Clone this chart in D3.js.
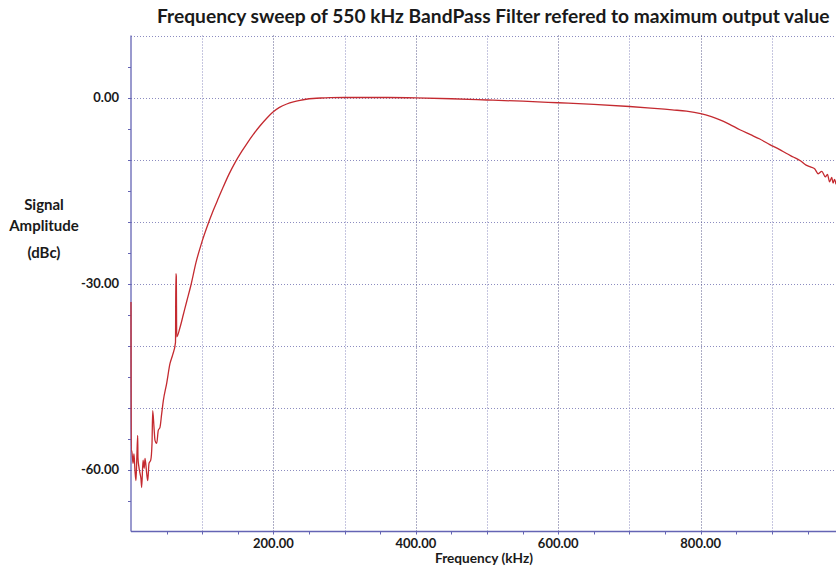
<!DOCTYPE html>
<html>
<head>
	<meta charset="utf-8">
	<title>Frequency sweep of 550 kHz BandPass Filter</title>
	<style>
		body { margin: 0; background: #fff; }
		svg { display: block; }
		text { font-family: Lato, "Open Sans", sans-serif; font-weight: bold; fill: #1a1a1a; }
		.grid line { stroke: #8c8cc0; stroke-width: 1; stroke-dasharray: 1,2; }
		.grid line.dark { stroke: #5a5a8a; }
		.axisline { stroke: #6464b4; stroke-width: 1.3; }
		.tick-minor { stroke: #6464b4; stroke-width: 1; }
		.line { fill: none; stroke: #c42a30; stroke-width: 1.3px; stroke-linejoin: round; }
	</style>
	<script src="https://cdn.jsdelivr.net/npm/d3@7"></script>
</head>
<body>
<svg width="836" height="567"></svg>
<script>

	// sweep: frequency in kHz, amplitude in dBc
	var freq = [0, 0.3, 1, 2.8, 4.2, 5.6, 7.0, 8.2, 9.4, 9.8, 11.0, 12.6, 14.0, 15.0, 16.9, 18.5, 19.7, 22.0, 23.5, 25.3,
		27.7, 29.5, 30.5, 32.3, 33.7, 36.1, 38.3, 40.7, 43.1, 45.4, 50.1, 54.8, 58.5, 62.5, 63.0, 63.6, 64.2, 68.8, 73.5, 78.2,
		84.3, 91.3, 99.3, 106.7, 115.6, 122.5, 129.6, 137.5, 146.1, 155.5, 163.5, 171.8, 181, 190.6, 199.4, 208.5, 218.7, 228, 237.4, 246,
		255.6, 267, 279.5, 300, 330, 360, 400, 450, 500, 550, 600, 650, 700, 730, 760, 780, 800, 815, 827, 840,
		855, 870, 883, 897, 911, 920, 930, 940, 948, 954, 960, 965, 970, 975, 978, 981, 984, 986, 988, 990];
	var amp = [-33.0, -57.0, -56.9, -59.0, -57.5, -60.2, -61.8, -58.0, -54.5, -58.1, -59.5, -60.6, -61.5, -62.9, -58.5, -59.8, -58.2, -60.6, -61.8, -59.0,
		-58.5, -55.8, -50.5, -53.2, -55.3, -55.8, -53.7, -53.2, -51.0, -48.9, -46.1, -42.9, -41.5, -39.5, -28.4, -28.8, -38.6, -37.1, -35.0, -32.9,
		-30.2, -26.6, -23.4, -20.9, -18.2, -16.3, -14.4, -12.4, -10.5, -8.7, -7.3, -5.95, -4.6, -3.35, -2.35, -1.6, -1.05, -0.7, -0.45, -0.28,
		-0.16, -0.08, -0.03, 0.0, 0.0, 0.0, -0.05, -0.2, -0.4, -0.6, -0.85, -1.1, -1.45, -1.7, -2.0, -2.2, -2.6, -3.1, -3.6, -4.3,
		-5.2, -6.0, -6.7, -7.6, -8.4, -9.0, -9.6, -10.2, -10.9, -11.2, -11.5, -12.3, -11.9, -12.8, -12.4, -13.6, -12.9, -13.8, -13.2, -14.0];

	var xLabels = [200, 400, 600, 800];
	var yLabels = [0, -30, -60];
	var xGrid = [100, 200, 300, 400, 500, 600, 700, 800, 900];
	var yGrid = [10, 0, -10, -20, -30, -40, -50, -60];

	var title = "Frequency sweep of 550 kHz BandPass Filter refered to maximum output value";
	var xTitle = "Frequency (kHz)";
	var yTitle = ["Signal", "Amplitude", "(dBc)"];

	var svg = d3.select("svg"),
	    plotLeft = 131, plotRight = 836, plotTop = 35.5, plotBottom = 531.5;

	var x = d3.scaleLinear().domain([0, 990]).range([plotLeft, plotRight]);
	var y = d3.scaleLinear().domain([10, -70]).range([plotTop, plotBottom]);

	svg.append("rect").attr("width", 836).attr("height", 567).attr("fill", "#fff");

	// makes a text fill a given width
	function fit(sel, w) {
		sel.attr("font-size", 100);
		var len = sel.node().getComputedTextLength();
		sel.attr("font-size", 100 * w / len);
		return sel;
	}

	var grid = svg.append("g").attr("class", "grid");
	grid.selectAll("line.h")
	    .data(yGrid)
	    .enter().append("line")
	      .attr("class", "h")
	      .attr("x1", plotLeft).attr("x2", plotRight)
	      .attr("y1", function(d) { return Math.round(y(d)) + 0.5; })
	      .attr("y2", function(d) { return Math.round(y(d)) + 0.5; });
	grid.selectAll("line.v")
	    .data(xGrid)
	    .enter().append("line")
	      .attr("class", function(d) { return d % 200 == 0 ? "v dark" : "v"; })
	      .attr("y1", plotTop).attr("y2", plotBottom)
	      .attr("x1", function(d) { return Math.round(x(d)) + 0.5; })
	      .attr("x2", function(d) { return Math.round(x(d)) + 0.5; });

	// minor ticks
	svg.append("g").selectAll("line")
	    .data(d3.range(50, 990, 50))
	    .enter().append("line")
	      .attr("class", "tick-minor")
	      .attr("x1", function(d) { return Math.round(x(d)) + 0.5; })
	      .attr("x2", function(d) { return Math.round(x(d)) + 0.5; })
	      .attr("y1", plotBottom).attr("y2", plotBottom + 3);
	svg.append("g").selectAll("line")
	    .data(d3.range(5, -70, -5))
	    .enter().append("line")
	      .attr("class", "tick-minor")
	      .attr("y1", function(d) { return Math.round(y(d)) + 0.5; })
	      .attr("y2", function(d) { return Math.round(y(d)) + 0.5; })
	      .attr("x1", plotLeft - 3).attr("x2", plotLeft);

	svg.append("line").attr("class", "axisline")
	    .attr("x1", plotLeft).attr("x2", plotLeft).attr("y1", plotTop).attr("y2", plotBottom);
	svg.append("line").attr("class", "axisline")
	    .attr("x1", plotLeft).attr("x2", plotRight).attr("y1", plotBottom).attr("y2", plotBottom);

	var pts = freq.map(function(f, i) { return [f, amp[i]]; });
	var line = d3.line()
	    .curve(d3.curveMonotoneX)
	    .x(function(d) { return x(d[0]); })
	    .y(function(d) { return y(d[1]); });
	svg.append("path").datum(pts).attr("class", "line").attr("d", line);

	// labels
	svg.selectAll("text.xl")
	    .data(xLabels)
	    .enter().append("text")
	      .attr("class", "xl")
	      .attr("x", function(d) { return x(d); })
	      .attr("y", 548)
	      .attr("text-anchor", "middle")
	      .attr("font-size", 13)
	      .text(function(d) { return d.toFixed(2); });

	svg.selectAll("text.yl")
	    .data(yLabels)
	    .enter().append("text")
	      .attr("class", "yl")
	      .attr("x", 119)
	      .attr("y", function(d) { return y(d) + 4; })
	      .attr("text-anchor", "end")
	      .attr("font-size", 13)
	      .text(function(d) { return d.toFixed(2); });

	fit(svg.append("text").attr("x", 157).attr("y", 23).text(title), 673);
	fit(svg.append("text").attr("x", 484).attr("y", 563).attr("text-anchor", "middle").text(xTitle), 98);

	var ty = [210, 231, 258];
	yTitle.forEach(function(t, i) {
		svg.append("text").attr("x", 44).attr("y", ty[i]).attr("text-anchor", "middle")
		    .attr("font-size", 15).text(t);
	});

</script>
</body>
</html>
